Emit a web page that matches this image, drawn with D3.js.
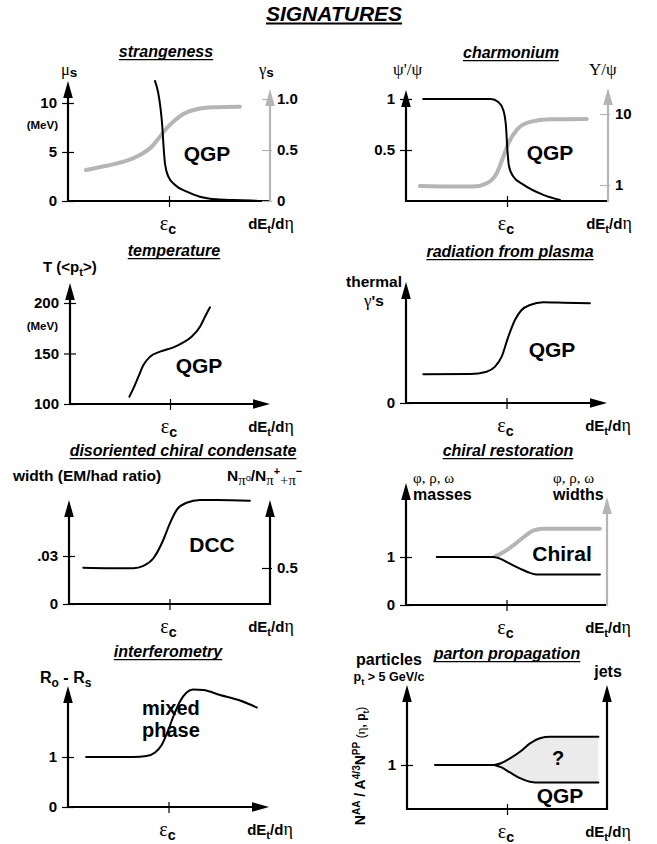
<!DOCTYPE html>
<html><head><meta charset="utf-8">
<script src="https://cdn.jsdelivr.net/npm/d3@7"></script>
<style>
html,body{margin:0;padding:0;background:#fff;}
svg{display:block;}
text{font-family:"Liberation Sans",Arial,Helvetica,sans-serif;font-weight:bold;fill:#000;}
</style></head><body>
<svg id="chart" width="657" height="844"></svg>
<script>
// ---- data -------------------------------------------------------------
const EPS_C = 0.5;             // critical energy density on the dEt/dη axis (0..1)

// strangeness: μs (MeV) falls, γs rises
const muX = [0.431, 0.447, 0.459, 0.467, 0.472, 0.48, 0.497, 0.53, 0.588, 0.653, 0.736, 0.818, 0.934];
const muS = [12.24, 10.99, 9.29, 7.58, 5.89, 3.85, 2.48, 1.63, 0.95, 0.44, 0.17, 0.1, 0.03];
const gammaX = [0.089, 0.191, 0.29, 0.356, 0.414, 0.455, 0.488, 0.521, 0.571, 0.637, 0.719, 0.851];
const gammaS = [0.304, 0.346, 0.395, 0.451, 0.532, 0.63, 0.713, 0.777, 0.853, 0.899, 0.919, 0.925];
const muTicks = [0, 5, 10];
const gammaTicks = [0, 0.5, 1.0];

// charmonium: ψ'/ψ suppression, Υ/ψ enhancement
const psiX = [0.085, 0.42, 0.457, 0.482, 0.495, 0.502, 0.51, 0.531, 0.581, 0.68, 0.762];
const psiRatio = [1.0, 1.0, 0.97, 0.89, 0.73, 0.50, 0.34, 0.24, 0.16, 0.06, 0.01];
const upsX = [0.069, 0.333, 0.4, 0.449, 0.482, 0.507, 0.548, 0.614, 0.713, 0.895];
const upsRatio = [0.97, 0.95, 1.06, 1.46, 2.51, 3.86, 5.95, 7.76, 8.41, 8.51];
const psiTicks = [0.5, 1];
const upsTicks = [1, 10];

// temperature (MeV)
const tempX = [0.297, 0.317, 0.342, 0.367, 0.40, 0.45, 0.517, 0.558, 0.608, 0.65, 0.675, 0.70];
const tempT = [107.2, 115.5, 127, 138.6, 146.8, 151.8, 156.1, 160.1, 166.6, 176.5, 186.4, 195.7];
const tempTicks = [100, 150, 200];

// thermal photons
const radX = [0.086, 0.318, 0.401, 0.443, 0.476, 0.509, 0.542, 0.575, 0.617, 0.683, 0.783, 0.915];
const radY = [0.287, 0.29, 0.313, 0.363, 0.463, 0.663, 0.83, 0.93, 0.98, 1.007, 1.003, 0.997];
const radTicks = [0];

// disoriented chiral condensate
const dccX = [0.071, 0.32, 0.37, 0.42, 0.469, 0.502, 0.536, 0.585, 0.652, 0.735, 0.9];
const dccW = [0.0227, 0.0223, 0.0238, 0.0286, 0.04, 0.0504, 0.0588, 0.0633, 0.065, 0.065, 0.0646];
const dccTicks = [0, 0.03];
const dccRightTicks = [0.5];

// chiral restoration: masses drop, widths grow
const massX = [0.153, 0.434, 0.468, 0.517, 0.567, 0.617, 0.65, 0.965];
const massY = [1.0, 1.0, 0.966, 0.862, 0.759, 0.669, 0.634, 0.634];
const widthX = [0.443, 0.484, 0.534, 0.584, 0.633, 0.683, 0.965];
const widthY = [1.01, 1.10, 1.24, 1.41, 1.55, 1.59, 1.59];
const chiralTicks = [0, 1];

// interferometry Ro - Rs
const hbtX = [0.09, 0.325, 0.391, 0.433, 0.466, 0.499, 0.524, 0.557, 0.59, 0.623, 0.673, 0.756, 0.856, 0.939];
const hbtY = [1.0, 1.0, 1.02, 1.09, 1.24, 1.54, 1.81, 2.11, 2.29, 2.35, 2.34, 2.24, 2.13, 1.99];
const hbtTicks = [0, 1];

// parton propagation: band of possible outcomes
const partonX = [0.14, 0.437];
const partonY = [1, 1];
const bandX = [0.437, 0.47, 0.515, 0.565, 0.615, 0.665, 0.715, 0.957];
const bandHigh = [1, 1.04, 1.15, 1.30, 1.49, 1.61, 1.64, 1.64];
const bandLow = [1, 0.95, 0.83, 0.70, 0.62, 0.60, 0.60, 0.60];
const partonTicks = [1];

// ---- drawing helpers ------------------------------------------------------
const svg = d3.select("#chart");
const GREY = "#b5b5b5";
const SERIF = "'Liberation Serif','Times New Roman',serif";

function rich(parent, x, y, parts, opt = {}) {
  const base = opt.size || 15;
  const t = parent.append("text").attr("x", x).attr("y", y)
    .attr("text-anchor", opt.anchor || "start")
    .style("font-size", base + "px");
  if (opt.rotate) t.attr("transform", `rotate(${opt.rotate},${x},${y})`);
  if (opt.italic) t.style("font-style", "italic");
  let shift = 0;
  parts.forEach(p => {
    const [str, kind = "", sc] = typeof p === "string" ? [p] : p;
    const k = kind.split(" ");
    let s = 0, scale = 1;
    if (k.includes("sub")) { s = 0.28; scale = 0.75; }
    if (k.includes("lo")) { s = 0.12; scale = 0.9; }
    if (k.includes("sup")) { s = -0.38; scale = 0.72; }
    if (sc) scale = sc;
    const ts = t.append("tspan").text(str)
      .attr("dy", ((s - shift) * base).toFixed(2))
      .style("font-size", (base * scale).toFixed(2) + "px");
    if (k.includes("serif")) ts.style("font-family", SERIF).style("font-weight", "normal");
    if (k.includes("reg")) ts.style("font-weight", "normal");
    shift = s;
  });
  return t;
}

function title(cx, y, str, size = 16) {
  const t = svg.append("text").attr("x", cx).attr("y", y).attr("text-anchor", "middle")
    .style("font-size", size + "px").style("font-style", "italic").text(str);
  const w = t.node().getComputedTextLength();
  svg.append("line").attr("x1", cx - w / 2).attr("x2", cx + w / 2)
    .attr("y1", y + 2.6).attr("y2", y + 2.6)
    .attr("stroke", "#000").attr("stroke-width", size > 18 ? 2 : 1.4);
}

function upArrow(x, yFrom, yTip, color) {
  svg.append("line").attr("x1", x).attr("x2", x).attr("y1", yFrom).attr("y2", yTip + 10)
    .attr("stroke", color).attr("stroke-width", 2.2);
  svg.append("path").attr("d", `M${x},${yTip} L${x - 4.8},${yTip + 17} L${x + 4.8},${yTip + 17} Z`)
    .attr("fill", color);
}
function rightArrow(y, xFrom, xTip) {
  svg.append("line").attr("x1", xFrom).attr("x2", xTip - 10).attr("y1", y).attr("y2", y)
    .attr("stroke", "#000").attr("stroke-width", 2.2);
  svg.append("path").attr("d", `M${xTip},${y} L${xTip - 17},${y - 4.8} L${xTip - 17},${y + 4.8} Z`)
    .attr("fill", "#000");
}

// one panel frame: axes, εc tick, axis labels
function panel(cfg) {
  const x = d3.scaleLinear().domain([0, 1]).range([cfg.left, cfg.right]);
  // horizontal axis
  if (cfg.xArrow) rightArrow(cfg.base, cfg.left - 1, cfg.right);
  else svg.append("line").attr("x1", cfg.left - 1).attr("x2", cfg.right + 1)
      .attr("y1", cfg.base).attr("y2", cfg.base).attr("stroke", "#000").attr("stroke-width", 2.2);
  upArrow(cfg.left, cfg.base + 1, cfg.top, "#000");
  if (cfg.rightTop != null) upArrow(cfg.right, cfg.base + 1, cfg.rightTop, cfg.rightColor || "#000");

  const gx = svg.append("g").attr("transform", `translate(0,${cfg.base})`)
    .call(d3.axisBottom(x).tickValues([EPS_C]).tickSize(6).tickFormat(""));
  gx.select(".domain").remove();
  gx.selectAll(".tick line").attr("y1", -5).attr("y2", 6).attr("stroke-width", 1.2);

  rich(svg, x(EPS_C) - 1, cfg.base + 29, [["ε", "serif", 1.35], ["c", "sub", 0.95]], { size: 15, anchor: "middle" });
  rich(svg, cfg.right + 1, cfg.base + 28, ["dE", ["t", "sub"], "/d", ["η", "serif", 1.2]], { size: 15, anchor: "middle" });
  return x;
}

function leftTicks(scale, left, values, fmt) {
  const g = svg.append("g").attr("transform", `translate(${left},0)`)
    .call(d3.axisLeft(scale).tickValues(values).tickSize(5).tickPadding(5).tickFormat(fmt || (d => d)));
  g.select(".domain").remove();
  g.selectAll(".tick line").attr("x1", -6).attr("x2", 6).attr("stroke-width", 1.2);
  g.selectAll(".tick text").attr("x", -11).style("font-size", "15px")
    .style("font-family", null).attr("font-family", null);
  return g;
}
function rightTicks(scale, right, values, fmt, color) {
  const g = svg.append("g").attr("transform", `translate(${right},0)`)
    .call(d3.axisRight(scale).tickValues(values).tickSize(5).tickPadding(4).tickFormat(fmt || (d => d)));
  g.select(".domain").remove();
  g.selectAll(".tick line").attr("x1", -8).attr("x2", 2).attr("stroke", color || "#000").attr("stroke-width", 1.2);
  g.selectAll(".tick text").attr("x", 7).style("font-size", "15px")
    .style("font-family", null).attr("font-family", null);
  return g;
}

function curve(x, y, xs, ys, color, width) {
  const pts = xs.map((v, i) => [v, ys[i]]);
  svg.append("path").datum(pts)
    .attr("d", d3.line().x(d => x(d[0])).y(d => y(d[1])).curve(d3.curveMonotoneX))
    .attr("fill", "none").attr("stroke", color).attr("stroke-width", width)
    .attr("stroke-linecap", "round").attr("stroke-linejoin", "round");
}

function big(x, y, str, size = 21, anchor = "middle") {
  svg.append("text").attr("x", x).attr("y", y).attr("text-anchor", anchor)
    .style("font-size", size + "px").text(str);
}

// ---- title -----------------------------------------------------------------
title(334, 21, "SIGNATURES", 21);

// ---- strangeness ----------------------------------------------------------
{
  title(166, 57, "strangeness");
  const x = panel({ left: 68, right: 270, base: 201, top: 81, rightTop: 89, rightColor: GREY });
  const yL = d3.scaleLinear().domain([0, 10]).range([201, 103]);
  const yR = d3.scaleLinear().domain([0, 1]).range([201, 99]);
  leftTicks(yL, 68, muTicks);
  rightTicks(yR, 270, gammaTicks, d => d === 0 ? "0" : d3.format(".1f")(d), GREY);
  rich(svg, 58, 129, ["(MeV)"], { size: 11.5, anchor: "end" });
  curve(x, yR, gammaX, gammaS, GREY, 4);
  curve(x, yL, muX, muS, "#000", 2);
  rich(svg, 61, 75, [["μ", "serif", 1.1], ["s", "lo"]], { size: 15 });
  rich(svg, 259, 75, [["γ", "serif", 1.1], ["s", "lo"]], { size: 15 });
  big(207, 161, "QGP");
}

// ---- charmonium -----------------------------------------------------------
{
  title(511, 58, "charmonium");
  const x = panel({ left: 406, right: 608, base: 201, top: 90, rightTop: 88, rightColor: GREY });
  const yL = d3.scaleLinear().domain([0, 1]).range([201, 99]);
  const yR = d3.scaleLog().domain([1, 10]).range([185, 114]);
  leftTicks(yL, 406, psiTicks);
  rightTicks(yR, 608, upsTicks, d => d, GREY);
  curve(x, yR, upsX, upsRatio, GREY, 4);
  curve(x, yL, psiX, psiRatio, "#000", 2);
  rich(svg, 393, 75, [["ψ'/ψ", "serif"]], { size: 17 });
  rich(svg, 589, 75, [["Υ/ψ", "serif"]], { size: 17 });
  big(550, 160, "QGP");
}

// ---- temperature ----------------------------------------------------------
{
  title(174, 256, "temperature");
  const x = panel({ left: 70, right: 270, base: 404, top: 283, xArrow: true });
  const y = d3.scaleLinear().domain([100, 200]).range([404, 303]);
  leftTicks(y, 70, tempTicks);
  rich(svg, 58, 330, ["(MeV)"], { size: 11.5, anchor: "end" });
  curve(x, y, tempX, tempT, "#000", 2);
  rich(svg, 43, 272, ["T (<p", ["t", "sub"], ">)"], { size: 15 });
  big(199, 373, "QGP");
}

// ---- radiation from plasma ------------------------------------------------
{
  title(510, 257, "radiation from plasma");
  const x = panel({ left: 406, right: 607, base: 403, top: 282, xArrow: true });
  const y = d3.scaleLinear().domain([0, 1]).range([403, 303]);
  leftTicks(y, 406, radTicks);
  curve(x, y, radX, radY, "#000", 2);
  rich(svg, 374, 287, ["thermal"], { size: 15.5, anchor: "middle" });
  rich(svg, 374, 306, [["γ", "serif", 1.1], "'s"], { size: 15.5, anchor: "middle" });
  big(552, 357, "QGP");
}

// ---- disoriented chiral condensate ---------------------------------------
{
  title(183, 456, "disoriented chiral condensate");
  const x = panel({ left: 69, right: 270, base: 604, top: 500, rightTop: 500 });
  const yL = d3.scaleLinear().domain([0, 0.03]).range([604, 556]);
  const yR = d3.scaleLinear().domain([0, 0.5]).range([604, 568]);
  leftTicks(yL, 69, dccTicks, d => d === 0 ? "0" : d3.format(".2f")(d).replace(/^0/, ""));
  rightTicks(yR, 270, dccRightTicks);
  curve(x, yL, dccX, dccW, "#000", 2);
  rich(svg, 13, 481, ["width (EM/had ratio)"], { size: 15.5 });
  rich(svg, 227, 481, ["N", ["π", "serif sub", 0.95], ["o", "reg", 0.6], ["/N", ""], ["π", "serif sub", 0.95],
    ["+", "sup", 0.7], ["+π", "serif sub", 0.95], ["−", "sup", 0.7]], { size: 15.5 });
  big(212, 552, "DCC");
}

// ---- chiral restoration ---------------------------------------------------
{
  title(508, 456, "chiral restoration");
  const x = panel({ left: 406, right: 607, base: 605, top: 483, rightTop: 497, rightColor: GREY });
  const y = d3.scaleLinear().domain([0, 1]).range([605, 557]);
  leftTicks(y, 406, chiralTicks);
  curve(x, y, widthX, widthY, GREY, 4);
  curve(x, y, massX, massY, "#000", 2);
  rich(svg, 413, 483, [["φ, ρ, ω", "serif"]], { size: 15 });
  rich(svg, 413, 500, ["masses"], { size: 16 });
  rich(svg, 553, 483, [["φ, ρ, ω", "serif"]], { size: 15 });
  rich(svg, 553, 500, ["widths"], { size: 16 });
  big(562, 561, "Chiral");
}

// ---- interferometry -------------------------------------------------------
{
  title(168, 657, "interferometry");
  const x = panel({ left: 68, right: 269, base: 807, top: 686, xArrow: true });
  const y = d3.scaleLinear().domain([0, 1]).range([807, 757]);
  leftTicks(y, 68, hbtTicks);
  curve(x, y, hbtX, hbtY, "#000", 2);
  rich(svg, 40, 683, ["R", ["o", "sub"], " - R", ["s", "sub"]], { size: 16 });
  big(142, 715, "mixed", 20, "start");
  big(142, 737, "phase", 20, "start");
}

// ---- parton propagation ---------------------------------------------------
{
  title(507, 659, "parton propagation");
  const x = panel({ left: 407, right: 607, base: 809, top: 685, rightTop: 685 });
  const y = d3.scaleLinear().domain([0, 1]).range([809, 765]);
  leftTicks(y, 407, partonTicks);
  const band = bandX.map((v, i) => ({ x: v, lo: bandLow[i], hi: bandHigh[i] }));
  svg.append("path").datum(band)
    .attr("d", d3.area().x(d => x(d.x)).y0(d => y(d.lo)).y1(d => y(d.hi)).curve(d3.curveMonotoneX))
    .attr("fill", "#ebebeb");
  curve(x, y, partonX, partonY, "#000", 2);
  curve(x, y, bandX, bandHigh, "#000", 2);
  curve(x, y, bandX, bandLow, "#000", 2);
  rich(svg, 389, 665, ["particles"], { size: 16, anchor: "middle" });
  rich(svg, 389, 681, ["p", ["t", "sub"], " > 5 GeV/c"], { size: 12.5, anchor: "middle" });
  rich(svg, 608, 677, ["jets"], { size: 16, anchor: "middle" });
  rich(svg, 365, 766, ["N", ["AA", "sup"], " / A", ["4/3", "sup"], "N", ["PP", "sup"],
    [" (", "reg", 0.85], ["η", "serif", 0.95], [", p", "", 0.85], ["t", "sub", 0.6], [")", "reg", 0.85]],
    { size: 14, anchor: "middle", rotate: -90 });
  big(558, 765, "?", 20);
  big(560, 803, "QGP");
}
</script></body></html>
